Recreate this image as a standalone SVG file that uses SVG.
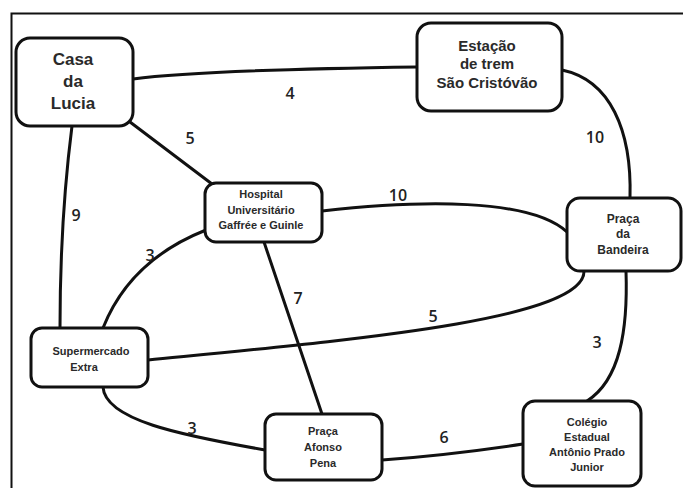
<svg xmlns="http://www.w3.org/2000/svg" width="683" height="488" viewBox="0 0 683 488">
  <style>
    .box { fill: #ffffff; stroke: #111111; stroke-width: 3; }
    .edge { fill: none; stroke: #111111; stroke-width: 3; stroke-linecap: round; }
    .name { font-family: "Liberation Sans", Arial, sans-serif; font-weight: bold; fill: #2a2a2a; text-anchor: middle; }
    .w { font-family: "Open Sans", "Liberation Sans", sans-serif; font-size: 16px; font-weight: 600; fill: #222222; text-anchor: middle; }
  </style>
  <rect width="683" height="488" fill="#ffffff"/>
  <!-- frame -->
  <path d="M11.5,488 V13.5 H683" fill="none" stroke="#111111" stroke-width="2"/>

  <g id="connectors">
    <path class="edge" d="M133,79 Q200,70 417,67"/>
    <path class="edge" d="M130,122 L212,184"/>
    <path class="edge" d="M72,126 Q60,220 60,328"/>
    <path class="edge" d="M103,328 Q130,260 206,230"/>
    <path class="edge" d="M322,211 C420,200 530,198 567,232"/>
    <path class="edge" d="M562,70 C610,80 632,130 630,198"/>
    <path class="edge" d="M264,242 L322,414"/>
    <path class="edge" d="M148,360 C350,340 585,320 584,271"/>
    <path class="edge" d="M626,271 C628,330 620,380 587,401"/>
    <path class="edge" d="M103,387 C105,420 180,435 265,450"/>
    <path class="edge" d="M382,460 Q450,455 523,444"/>
    <text class="w" x="290" y="99">4</text>
    <text class="w" x="190" y="144">5</text>
    <text class="w" x="76" y="221">9</text>
    <text class="w" x="150" y="261">3</text>
    <text class="w" x="398" y="201">10</text>
    <text class="w" x="595" y="143">10</text>
    <text class="w" x="298" y="304">7</text>
    <text class="w" x="433" y="322">5</text>
    <text class="w" x="597" y="348">3</text>
    <text class="w" x="192" y="434">3</text>
    <text class="w" x="444" y="443">6</text>
  </g>

  <g id="casa-da-lucia">
    <rect class="box" x="16" y="38" width="117" height="88" rx="14"/>
    <text class="name" font-size="17" x="73" y="65">Casa</text>
    <text class="name" font-size="17" x="73" y="87">da</text>
    <text class="name" font-size="17" x="73" y="109">Lucia</text>
  </g>

  <g id="estacao-sao-cristovao">
    <rect class="box" x="417" y="23" width="145" height="88" rx="14"/>
    <text class="name" font-size="15" x="487" y="51">Estação</text>
    <text class="name" font-size="15" x="487" y="69">de trem</text>
    <text class="name" font-size="15" x="487" y="88">São Cristóvão</text>
  </g>

  <g id="hospital">
    <rect class="box" x="205" y="183" width="117" height="59" rx="11"/>
    <text class="name" font-size="11" x="261" y="198">Hospital</text>
    <text class="name" font-size="11" x="261" y="214">Universitário</text>
    <text class="name" font-size="11" x="261" y="229">Gaffrée e Guinle</text>
  </g>

  <g id="praca-da-bandeira">
    <rect class="box" x="567" y="198" width="114" height="73" rx="13"/>
    <text class="name" font-size="12" x="623" y="223">Praça</text>
    <text class="name" font-size="12" x="623" y="238">da</text>
    <text class="name" font-size="12" x="623" y="254">Bandeira</text>
  </g>

  <g id="supermercado-extra">
    <rect class="box" x="31" y="328" width="117" height="59" rx="11"/>
    <text class="name" font-size="11" x="91" y="355">Supermercado</text>
    <text class="name" font-size="11" x="84" y="371">Extra</text>
  </g>

  <g id="praca-afonso-pena">
    <rect class="box" x="265" y="414" width="117" height="66" rx="11"/>
    <text class="name" font-size="11" x="323" y="435">Praça</text>
    <text class="name" font-size="11" x="323" y="451">Afonso</text>
    <text class="name" font-size="11" x="323" y="467">Pena</text>
  </g>

  <g id="colegio-estadual">
    <rect class="box" x="523" y="401" width="118" height="85" rx="12"/>
    <text class="name" font-size="11" x="587" y="426">Colégio</text>
    <text class="name" font-size="11" x="587" y="441">Estadual</text>
    <text class="name" font-size="11" x="587" y="456">Antônio Prado</text>
    <text class="name" font-size="11" x="587" y="471">Junior</text>
  </g>
</svg>
